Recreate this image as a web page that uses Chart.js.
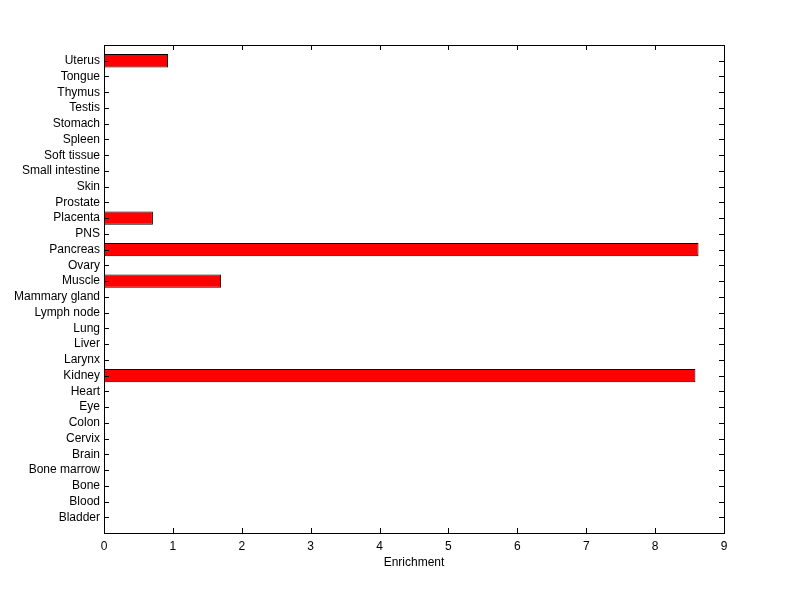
<!DOCTYPE html>
<html>
<head>
<meta charset="utf-8">
<script src="https://cdn.jsdelivr.net/npm/chart.js@4/dist/chart.umd.min.js"></script>
<style>
  html, body { margin: 0; padding: 0; background: #fff; }
  #wrap { width: 800px; height: 599px; }
</style>
</head>
<body>
<div id="wrap"><canvas id="canvas" width="800" height="599"></canvas></div>
<script>
// tissues, top to bottom as in the figure
var tissues = ['Uterus', 'Tongue', 'Thymus', 'Testis', 'Stomach', 'Spleen', 'Soft tissue',
  'Small intestine', 'Skin', 'Prostate', 'Placenta', 'PNS', 'Pancreas', 'Ovary', 'Muscle',
  'Mammary gland', 'Lymph node', 'Lung', 'Liver', 'Larynx', 'Kidney', 'Heart', 'Eye',
  'Colon', 'Cervix', 'Brain', 'Bone marrow', 'Bone', 'Blood', 'Bladder'];
var enrichment = [0.93, 0, 0, 0, 0, 0, 0,
  0, 0, 0, 0.71, 0, 8.63, 0, 1.70,
  0, 0, 0, 0, 0, 8.585, 0, 0,
  0, 0, 0, 0, 0, 0, 0];
var xTicks = [0, 1, 2, 3, 4, 5, 6, 7, 8, 9];

// blank slot at each end so the axis runs one full row past the first/last tissue
var labels = [''].concat(tissues).concat(['']);
var values = [null].concat(enrichment.map(function (v) { return v > 0 ? v : null; })).concat([null]);

/* box round the axes with ticks pointing inward on all four sides */
var boxTicks = {
  id: 'boxTicks',
  afterDraw: function (chart) {
    var c = chart.ctx, a = chart.chartArea;
    var xs = chart.scales.x, ys = chart.scales.y;
    var len = 5;
    c.save();
    c.strokeStyle = '#000';
    c.lineWidth = 1;
    c.beginPath();
    xs.ticks.forEach(function (t, i) {
      var px = Math.round(xs.getPixelForTick(i)) + 0.5;
      c.moveTo(px, a.bottom); c.lineTo(px, a.bottom - len);
      c.moveTo(px, a.top); c.lineTo(px, a.top + len);
    });
    for (var i = 1; i < labels.length - 1; i++) {
      var py = Math.round(ys.getPixelForValue(i)) + 0.5;
      c.moveTo(a.left, py); c.lineTo(a.left + len, py);
      c.moveTo(a.right, py); c.lineTo(a.right - len, py);
    }
    c.stroke();
    c.strokeRect(Math.round(a.left) + 0.5, Math.round(a.top) + 0.5,
      Math.round(a.right - a.left), Math.round(a.bottom - a.top));
    c.restore();
  }
};

var ctx = document.getElementById('canvas');
new Chart(ctx, {
  type: 'bar',
  data: {
    labels: labels,
    datasets: [{
      data: values,
      backgroundColor: '#ff0000',
      borderColor: '#000000',
      borderWidth: 1,
      borderSkipped: false,
      barPercentage: 0.85,
      categoryPercentage: 1.0
    }]
  },
  options: {
    indexAxis: 'y',
    responsive: false,
    animation: false,
    layout: { padding: { left: 0, right: 76, top: 45, bottom: 29 } },
    plugins: { legend: { display: false }, tooltip: { enabled: false } },
    scales: {
      x: {
        type: 'linear',
        min: 0,
        max: 9,
        afterBuildTicks: function (scale) {
          scale.ticks = xTicks.map(function (v) { return { value: v }; });
        },
        afterFit: function (scale) { scale.height = 37; },
        grid: { display: false, drawTicks: false },
        border: { display: false },
        ticks: {
          padding: 6,
          color: '#000',
          font: { family: 'Liberation Sans, Arial, sans-serif', size: 12 },
          maxRotation: 0
        },
        title: {
          display: true,
          text: 'Enrichment',
          color: '#000',
          font: { family: 'Liberation Sans, Arial, sans-serif', size: 12 },
          padding: { top: 1, bottom: 0 }
        }
      },
      y: {
        type: 'category',
        offset: false,
        afterFit: function (scale) { scale.width = 104; },
        grid: { display: false, drawTicks: false },
        border: { display: false },
        ticks: {
          padding: 4,
          autoSkip: false,
          color: '#000',
          font: { family: 'Liberation Sans, Arial, sans-serif', size: 12 }
        }
      }
    }
  },
  plugins: [boxTicks]
});
</script>
</body>
</html>
